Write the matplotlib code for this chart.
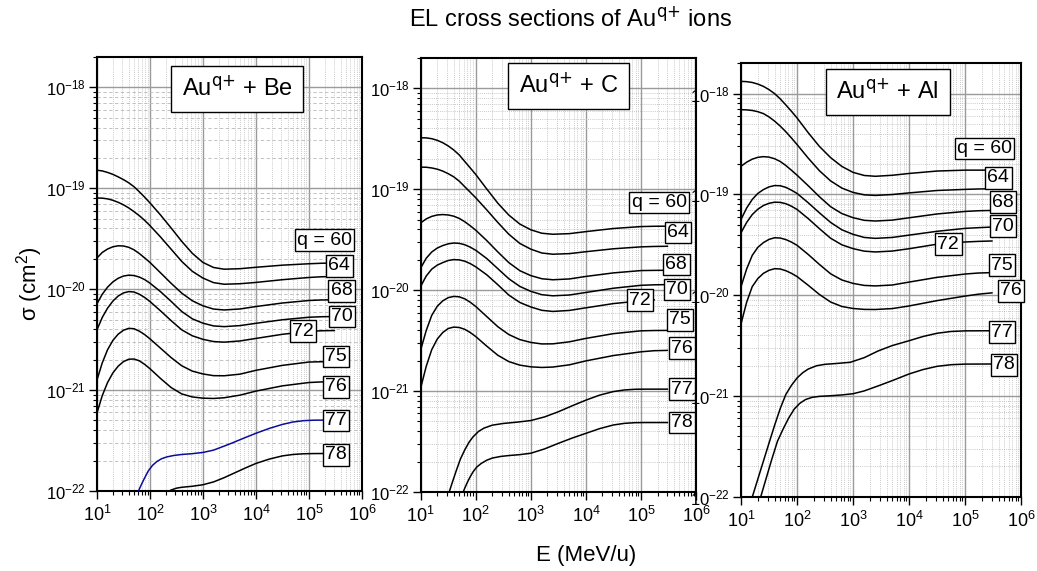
import numpy as np
import matplotlib
matplotlib.use("Agg")
import matplotlib.pyplot as plt
from matplotlib.ticker import FixedLocator, LogLocator, NullFormatter

plt.rcParams["font.family"] = ["Liberation Sans", "DejaVu Sans"]
plt.rcParams["mathtext.default"] = "regular"

# log10(E / MeV/u) grid shared by the q = 60 ... 76 curves
LOG_E = [1.0, 1.1, 1.2, 1.3, 1.4, 1.5, 1.6, 1.7, 1.8, 1.9, 2.0, 2.2, 2.4, 2.6, 2.8, 3.0,
         3.2, 3.4, 3.7, 4.0, 4.5, 5.0, 5.24, 5.48]
LABELS = ["q = 60", "64", "68", "70", "72", "75", "76", "77", "78"]

# log10(sigma / cm^2)
# ── Au + Be ──
be_q60 = [-18.821, -18.828, -18.843, -18.862, -18.887, -18.914, -18.946, -18.985, -19.035, -19.088, -19.145, -19.265,
          -19.394, -19.526, -19.645, -19.735, -19.785, -19.802, -19.797, -19.783, -19.762, -19.748, -19.743, -19.741]
be_q64 = [-19.096, -19.098, -19.105, -19.119, -19.139, -19.164, -19.195, -19.232, -19.272, -19.318, -19.370, -19.483,
          -19.604, -19.725, -19.823, -19.890, -19.935, -19.951, -19.946, -19.933, -19.906, -19.884, -19.877, -19.874]
be_q68 = [-19.691, -19.636, -19.602, -19.580, -19.570, -19.572, -19.585, -19.610, -19.647, -19.690, -19.735, -19.838,
          -19.942, -20.039, -20.115, -20.165, -20.197, -20.206, -20.196, -20.172, -20.137, -20.112, -20.107, -20.105]
be_q70 = [-20.145, -20.050, -19.980, -19.928, -19.892, -19.870, -19.861, -19.865, -19.880, -19.905, -19.940, -20.025,
          -20.121, -20.221, -20.294, -20.337, -20.364, -20.371, -20.361, -20.338, -20.303, -20.278, -20.273, -20.271]
be_q72 = [-20.403, -20.280, -20.188, -20.118, -20.068, -20.037, -20.024, -20.028, -20.050, -20.082, -20.122, -20.215,
          -20.312, -20.403, -20.462, -20.497, -20.519, -20.525, -20.513, -20.488, -20.447, -20.418, -20.412, -20.410]
be_q75 = [-20.900, -20.730, -20.600, -20.508, -20.446, -20.407, -20.388, -20.392, -20.416, -20.450, -20.492, -20.585,
          -20.678, -20.759, -20.812, -20.840, -20.857, -20.858, -20.842, -20.804, -20.755, -20.722, -20.719, -20.718]
be_q76 = [-21.227, -21.055, -20.925, -20.830, -20.763, -20.718, -20.694, -20.692, -20.710, -20.745, -20.788, -20.885,
          -20.975, -21.038, -21.068, -21.080, -21.083, -21.076, -21.050, -21.010, -20.958, -20.925, -20.919, -20.917]
be_q77_logE = [1.75, 1.8, 1.85, 1.9, 1.97, 2.05, 2.13, 2.22, 2.32, 2.45, 2.6, 2.8, 3.0, 3.2, 3.5, 3.8, 4.0,
               4.25, 4.5, 4.7, 4.9, 5.1, 5.48]
be_q77 = [-22.042, -21.980, -21.923, -21.870, -21.800, -21.745, -21.708, -21.680, -21.662, -21.648, -21.638, -21.630,
          -21.618, -21.595, -21.535, -21.470, -21.428, -21.380, -21.340, -21.316, -21.303, -21.298, -21.297]
be_q78_logE = [2.24, 2.3, 2.4, 2.5, 2.6, 2.8, 3.0, 3.2, 3.4, 3.6, 3.8, 4.0, 4.25, 4.5, 4.7, 4.9, 5.1, 5.48]
be_q78 = [-22.042, -22.020, -21.990, -21.972, -21.963, -21.953, -21.938, -21.910, -21.868, -21.820, -21.772, -21.727,
          -21.684, -21.652, -21.638, -21.631, -21.629, -21.628]

# ── Au + C ──
c_q60 = [-18.490, -18.491, -18.499, -18.515, -18.539, -18.571, -18.611, -18.660, -18.725, -18.789, -18.854, -18.998,
         -19.138, -19.256, -19.345, -19.402, -19.436, -19.446, -19.440, -19.420, -19.389, -19.370, -19.367, -19.366]
c_q64 = [-18.781, -18.782, -18.789, -18.801, -18.820, -18.846, -18.877, -18.920, -18.975, -19.030, -19.085, -19.205,
         -19.329, -19.446, -19.537, -19.594, -19.632, -19.644, -19.638, -19.619, -19.590, -19.571, -19.567, -19.565]
c_q68 = [-19.333, -19.294, -19.269, -19.255, -19.251, -19.255, -19.267, -19.289, -19.322, -19.362, -19.406, -19.509,
         -19.621, -19.727, -19.807, -19.856, -19.887, -19.897, -19.889, -19.864, -19.829, -19.806, -19.804, -19.803]
c_q70 = [-19.780, -19.684, -19.622, -19.583, -19.558, -19.541, -19.533, -19.536, -19.550, -19.574, -19.605, -19.687,
         -19.787, -19.887, -19.963, -20.012, -20.045, -20.056, -20.048, -20.023, -19.981, -19.952, -19.947, -19.945]
c_q72 = [-19.962, -19.860, -19.792, -19.752, -19.727, -19.706, -19.697, -19.700, -19.713, -19.737, -19.769, -19.848,
         -19.946, -20.049, -20.122, -20.167, -20.200, -20.211, -20.201, -20.175, -20.133, -20.106, -20.096, np.nan]
c_q75 = [-20.591, -20.400, -20.250, -20.160, -20.106, -20.074, -20.062, -20.066, -20.086, -20.120, -20.162, -20.262,
         -20.362, -20.440, -20.490, -20.518, -20.533, -20.532, -20.512, -20.478, -20.431, -20.403, -20.400, -20.399]
c_q76 = [-20.968, -20.755, -20.590, -20.485, -20.420, -20.380, -20.366, -20.370, -20.388, -20.420, -20.460, -20.555,
         -20.645, -20.708, -20.743, -20.760, -20.766, -20.762, -20.740, -20.701, -20.648, -20.611, -20.600, -20.597]
c_q77_logE = [1.5, 1.58, 1.65, 1.72, 1.8, 1.88, 1.95, 2.05, 2.15, 2.3, 2.5, 2.75, 3.0, 3.25, 3.5, 3.75, 4.0,
              4.25, 4.5, 4.7, 4.9, 5.1, 5.48]
c_q77 = [-22.030, -21.895, -21.782, -21.675, -21.583, -21.505, -21.454, -21.400, -21.367, -21.338, -21.321, -21.308,
         -21.292, -21.256, -21.205, -21.146, -21.090, -21.040, -21.005, -20.989, -20.982, -20.981, -20.981]
c_q78_logE = [1.75, 1.8, 1.85, 1.9, 1.95, 2.02, 2.1, 2.2, 2.3, 2.45, 2.6, 2.8, 3.0, 3.25, 3.5, 3.75, 4.0,
              4.25, 4.5, 4.7, 4.9, 5.1, 5.48]
c_q78 = [-22.030, -21.962, -21.901, -21.848, -21.801, -21.752, -21.717, -21.685, -21.664, -21.648, -21.639, -21.630,
         -21.616, -21.573, -21.518, -21.466, -21.419, -21.372, -21.336, -21.320, -21.313, -21.312, -21.312]

# ── Au + Al ──
al_q60 = [-17.878, -17.881, -17.889, -17.905, -17.928, -17.960, -18.000, -18.052, -18.112, -18.175, -18.241, -18.388,
          -18.524, -18.635, -18.722, -18.781, -18.812, -18.820, -18.810, -18.792, -18.768, -18.759, -18.759, -18.759]
al_q64 = [-18.159, -18.161, -18.167, -18.179, -18.198, -18.231, -18.273, -18.322, -18.378, -18.440, -18.505, -18.640,
          -18.765, -18.866, -18.937, -18.980, -19.004, -19.010, -19.001, -18.985, -18.961, -18.950, -18.946, -18.944]
al_q68 = [-18.720, -18.680, -18.650, -18.632, -18.625, -18.630, -18.646, -18.673, -18.713, -18.760, -18.809, -18.914,
          -19.023, -19.122, -19.190, -19.231, -19.257, -19.264, -19.255, -19.232, -19.194, -19.169, -19.162, -19.159]
al_q70 = [-19.248, -19.135, -19.050, -18.990, -18.952, -18.925, -18.912, -18.914, -18.930, -18.958, -18.990, -19.083,
          -19.183, -19.278, -19.351, -19.396, -19.427, -19.436, -19.427, -19.404, -19.366, -19.337, -19.330, -19.324]
al_q72 = [-19.380, -19.278, -19.200, -19.147, -19.110, -19.088, -19.077, -19.079, -19.092, -19.117, -19.149, -19.240,
          -19.340, -19.435, -19.500, -19.538, -19.563, -19.571, -19.562, -19.539, -19.494, -19.472, -19.466, -19.462]
al_q75 = [-19.915, -19.740, -19.605, -19.525, -19.478, -19.446, -19.430, -19.433, -19.448, -19.473, -19.505, -19.596,
          -19.695, -19.788, -19.849, -19.883, -19.903, -19.908, -19.899, -19.870, -19.823, -19.790, -19.780, -19.776]
al_q76 = [-20.284, -20.070, -19.915, -19.835, -19.783, -19.753, -19.737, -19.740, -19.757, -19.783, -19.815, -19.902,
          -19.993, -20.068, -20.112, -20.132, -20.141, -20.142, -20.133, -20.107, -20.054, -20.009, -19.990, -19.977]
al_q77_logE = [1.2, 1.3, 1.4, 1.5, 1.6, 1.7, 1.8, 1.9, 2.0, 2.1, 2.2, 2.35, 2.5, 2.7, 2.95, 3.2, 3.45, 3.7, 4.0,
               4.25, 4.5, 4.75, 5.0, 5.48]
al_q77 = [-22.004, -21.825, -21.646, -21.467, -21.290, -21.125, -20.985, -20.895, -20.822, -20.770, -20.733, -20.700,
          -20.686, -20.678, -20.666, -20.620, -20.553, -20.500, -20.452, -20.410, -20.378, -20.360, -20.354, -20.353]
al_q78_logE = [1.35, 1.45, 1.55, 1.65, 1.75, 1.85, 1.95, 2.05, 2.15, 2.27, 2.4, 2.6, 2.8, 3.0, 3.2, 3.45, 3.7,
               4.0, 4.25, 4.5, 4.75, 5.0, 5.48]
al_q78 = [-22.004, -21.815, -21.627, -21.450, -21.330, -21.220, -21.130, -21.073, -21.036, -21.014, -21.004, -20.998,
          -20.990, -20.978, -20.950, -20.900, -20.848, -20.782, -20.738, -20.706, -20.690, -20.684, -20.683]

# label anchors (log10 E, log10 sigma)
be_lab_x = [5.292, 5.575, 5.617, 5.623, 4.892, 5.509, 5.506, 5.506, 5.513]
be_lab_y = [-19.514, -19.768, -20.016, -20.271, -20.416, -20.668, -20.969, -21.302, -21.641]
c_lab_x = [5.329, 5.669, 5.642, 5.651, 4.984, 5.705, 5.742, 5.742, 5.742]
c_lab_y = [-19.132, -19.429, -19.747, -19.995, -20.099, -20.293, -20.574, -20.980, -21.310]
al_lab_x = [5.348, 5.593, 5.679, 5.679, 4.702, 5.661, 5.821, 5.664, 5.696]
al_lab_y = [-18.544, -18.837, -19.078, -19.314, -19.495, -19.702, -19.957, -20.368, -20.692]

panels = [
    dict(target="Be", rect=[0.0935, 0.1401, 0.2555, 0.7601], title_xy=(0.530, 0.926),
         curves=[be_q60, be_q64, be_q68, be_q70, be_q72, be_q75, be_q76],
         q77=(be_q77_logE, be_q77), q78=(be_q78_logE, be_q78), q77_color="#0c0c9c",
         lab=(be_lab_x, be_lab_y), yminor_ls=(0, (4, 3))),
    dict(target="C", rect=[0.4057, 0.1384, 0.2655, 0.7601], title_xy=(0.536, 0.936),
         curves=[c_q60, c_q64, c_q68, c_q70, c_q72, c_q75, c_q76],
         q77=(c_q77_logE, c_q77), q78=(c_q78_logE, c_q78), q77_color="black",
         lab=(c_lab_x, c_lab_y), yminor_ls=(0, (1, 1.5))),
    dict(target="Al", rect=[0.7146, 0.1301, 0.2700, 0.7590], title_xy=(0.524, 0.934),
         curves=[al_q60, al_q64, al_q68, al_q70, al_q72, al_q75, al_q76],
         q77=(al_q77_logE, al_q77), q78=(al_q78_logE, al_q78), q77_color="black",
         lab=(al_lab_x, al_lab_y), yminor_ls=(0, (1, 1.5))),
]


def pw(v):
    return 10.0 ** np.asarray(v, dtype=float)


fig = plt.figure(figsize=(10.37, 5.71), dpi=100)

for p in panels:
    ax = fig.add_axes(p["rect"])
    ax.set_xscale("log")
    ax.set_yscale("log")

    for vals in p["curves"]:
        ax.plot(pw(LOG_E), pw(vals), color="black", lw=1.1, zorder=3)
    ax.plot(pw(p["q77"][0]), pw(p["q77"][1]), color=p["q77_color"], lw=1.1, zorder=3)
    ax.plot(pw(p["q78"][0]), pw(p["q78"][1]), color="black", lw=1.1, zorder=3)

    ax.set_xlim(10, 1e6)
    ax.set_ylim(1e-22, 2e-18)
    # only ticks inside the view, so no hidden labels sit outside the panels
    ax.xaxis.set_major_locator(FixedLocator([1e1, 1e2, 1e3, 1e4, 1e5, 1e6]))
    ax.yaxis.set_major_locator(FixedLocator([1e-22, 1e-21, 1e-20, 1e-19, 1e-18]))
    ax.xaxis.set_minor_locator(LogLocator(base=10, subs=np.arange(2, 10), numticks=20))
    ax.yaxis.set_minor_locator(LogLocator(base=10, subs=np.arange(2, 10), numticks=20))
    ax.xaxis.set_minor_formatter(NullFormatter())
    ax.yaxis.set_minor_formatter(NullFormatter())

    ax.grid(which="major", color="#9a9a9a", lw=1.0, zorder=0)
    ax.grid(which="minor", axis="x", color="#b8b8b8", lw=0.6, ls=(0, (1, 1.5)), zorder=0)
    ax.grid(which="minor", axis="y", color="#b8b8b8", lw=0.6, ls=p["yminor_ls"], zorder=0)
    ax.set_axisbelow(True)

    ax.tick_params(which="major", direction="out", length=6, width=1.0, top=False, right=False)
    ax.tick_params(which="minor", direction="out", length=3, width=0.8, top=False, right=False)
    ax.tick_params(axis="x", labelsize=13, pad=4)
    ax.tick_params(axis="y", labelsize=12, pad=2)
    for s in ax.spines.values():
        s.set_linewidth(1.5)

    ax.text(*p["title_xy"], r"Au$^{\text{q+}}$ + " + p["target"], transform=ax.transAxes,
            ha="center", va="center", fontsize=17, zorder=6,
            bbox=dict(boxstyle="square,pad=0.45", fc="white", ec="black", lw=1.0))

    for txt, lx, ly in zip(LABELS, *p["lab"]):
        ax.text(10 ** lx, 10 ** ly, txt, ha="center", va="center", fontsize=14, zorder=6,
                clip_on=False,
                bbox=dict(boxstyle="square,pad=0.12", fc="white", ec="black", lw=1.0))

fig.text(571 / 1037, 1 - 20 / 571, r"EL cross sections of Au$^{\text{q+}}$ ions",
         ha="center", va="center", fontsize=17)
fig.text(586 / 1037, 1 - 555 / 571, "E (MeV/u)", ha="center", va="center", fontsize=16)
fig.text(30 / 1037, 1 - 284 / 571, "σ (cm$^2$)", ha="center", va="center",
         rotation=90, fontsize=16)

fig.savefig("out.png", dpi=100)
